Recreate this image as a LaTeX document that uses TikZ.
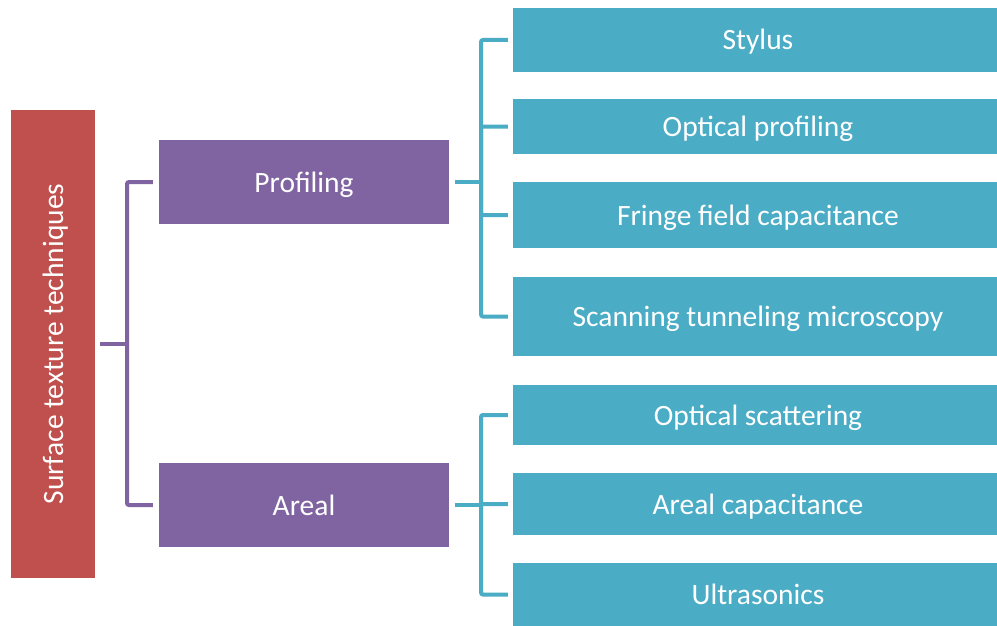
\documentclass[tikz,border=0pt]{standalone}
\usepackage{fontspec}
\setmainfont{Carlito}
\definecolor{cred}{HTML}{C0504D}
\definecolor{cpur}{HTML}{8064A2}
\definecolor{cblue}{HTML}{4BACC6}
\begin{document}
\begin{tikzpicture}[x=1pt,y=-1pt,
  boxbase/.style={inner sep=0pt,text=white,font=\fontsize{29.5}{33}\selectfont,anchor=center},
  txt/.style={text height=25pt,text depth=5pt},
  redbox/.style={boxbase,fill=cred},
  purbox/.style={boxbase,txt,fill=cpur,minimum width=290pt,minimum height=84pt},
  bluebox/.style={boxbase,txt,fill=cblue,minimum width=490pt},
  pline/.style={draw=cpur,line width=4pt,rounded corners=2pt},
  bline/.style={draw=cblue,line width=4pt,rounded corners=2pt}]
\useasboundingbox (0,0) rectangle (997,626);
\fill[white] (0,0) rectangle (997,626);
% root
\node[redbox,minimum width=84pt,minimum height=468pt] (root) at (53,344) {};
\node[boxbase,txt,rotate=90] (roottxt) at (53,344) {Surface texture techniques};
% level 1
\node[purbox] (prof) at (304,182) {Profiling};
\node[purbox] (areal) at (304,505) {Areal};
% level 2
\node[bluebox,minimum height=64pt] (stylus) at (758,40) {Stylus};
\node[bluebox,minimum height=55pt] (optp) at (758,126.5) {Optical profiling};
\node[bluebox,minimum height=66pt] (fringe) at (758,215) {Fringe field capacitance};
\node[bluebox,minimum height=79pt] (stm) at (758,316.5) {Scanning tunneling microscopy};
\node[bluebox,minimum height=60pt] (scat) at (758,415) {Optical scattering};
\node[bluebox,minimum height=62pt] (acap) at (758,504) {Areal capacitance};
\node[bluebox,minimum height=63pt] (ultra) at (758,594.5) {Ultrasonics};
% connectors
\coordinate (pj) at (127,344);
\draw[pline] ([xshift=5pt]root.east) -- (pj);
\draw[pline] ([xshift=-6pt]prof.west) -| (pj) |- ([xshift=-6pt]areal.west);
\coordinate (bj1) at (481,182);
\draw[bline] ([xshift=6pt]prof.east) -- (bj1);
\draw[bline] ([xshift=-5pt]stylus.west) -| (bj1) |- ([xshift=-5pt]stm.west);
\draw[bline] ([xshift=-5pt]optp.west) -| (bj1);
\draw[bline] ([xshift=-5pt]fringe.west) -| (bj1);
\coordinate (bj2) at (481,505);
\draw[bline] ([xshift=6pt]areal.east) -- (bj2);
\draw[bline] ([xshift=-5pt]scat.west) -| (bj2) |- ([xshift=-5pt]ultra.west);
\draw[bline] ([xshift=-5pt]acap.west) -| (bj2);
\end{tikzpicture}
\end{document}
